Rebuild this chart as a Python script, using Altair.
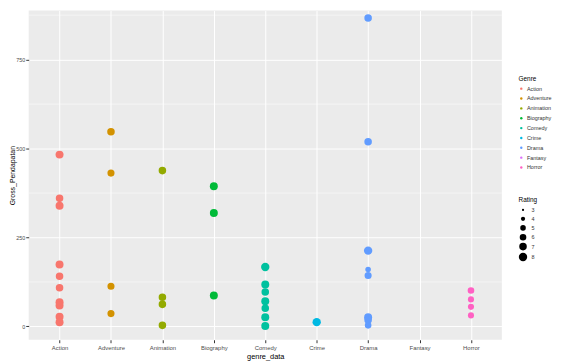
import altair as alt
import pandas as pd

genres = ["Action", "Adventure", "Animation", "Biography", "Comedy",
          "Crime", "Drama", "Fantasy", "Horror"]
colors = ["#F8766D", "#D39200", "#93AA00", "#00BA38", "#00C19F",
          "#00B9E3", "#619CFF", "#DB72FB", "#FF61C3"]

action_gross = [483, 360, 339, 174, 141, 109, 68, 59, 27, 12]
action_rating = [7.5, 7, 7.5, 7.5, 7, 7, 7.5, 7.5, 7.5, 7.5]
adventure_gross = [547, 431, 113, 36]
adventure_rating = [7, 6.5, 6.5, 6.5]
animation_gross = [438, 82, 62, 3]
animation_rating = [7, 7, 7, 7]
biography_gross = [394, 319, 87]
biography_rating = [7.5, 7.5, 7.5]
comedy_gross = [167, 118, 97, 71, 51, 26, 1]
comedy_rating = [8, 7.5, 7, 7.5, 7, 7.5, 7.5]
crime_gross = [12]
crime_rating = [8]
drama_gross = [867, 519, 213, 160, 143, 26, 18, 3]
drama_rating = [7, 7, 8, 5, 6.5, 7.5, 7, 6]
horror_gross = [101, 76, 55, 31]
horror_rating = [6, 5.5, 5.5, 5.5]

y_ticks = [0, 250, 500, 750]
y_minor = [125, 375, 625, 875]
rating_ticks = [3, 4, 5, 6, 7, 8]

series = [
    ("Action", action_gross, action_rating),
    ("Adventure", adventure_gross, adventure_rating),
    ("Animation", animation_gross, animation_rating),
    ("Biography", biography_gross, biography_rating),
    ("Comedy", comedy_gross, comedy_rating),
    ("Crime", crime_gross, crime_rating),
    ("Drama", drama_gross, drama_rating),
    ("Horror", horror_gross, horror_rating),
]
rows = []
for g, gs, rs in series:
    for v, r in zip(gs, rs):
        rows.append({"genre_data": g, "Gross": v, "Rating": r})
df = pd.DataFrame(rows)
minor_df = pd.DataFrame({"Gross": y_minor})

FONT = "Liberation Sans"
ydom = [-37.5, 888]

x_enc = alt.X("genre_data:N", title="genre_data",
              scale=alt.Scale(domain=genres, type="point", padding=0.6),
              axis=alt.Axis(labelAngle=0, grid=True, gridColor="white", gridWidth=1,
                            domain=False, tickColor="#333333", tickSize=3,
                            labelFontSize=6, labelColor="#4D4D4D", labelPadding=2,
                            titleFontSize=7.5, titleColor="black", titlePadding=2,
                            titleFontWeight="normal", labelFont=FONT, titleFont=FONT))

minor = alt.Chart(minor_df).mark_rule(color="white", strokeWidth=0.5).encode(
    y=alt.Y("Gross:Q", scale=alt.Scale(domain=ydom, nice=False, zero=False))
)

points = alt.Chart(df).mark_circle(opacity=1).encode(
    x=x_enc,
    y=alt.Y("Gross:Q", title="Gross_Pendapatan",
            scale=alt.Scale(domain=ydom, nice=False, zero=False),
            axis=alt.Axis(values=y_ticks, grid=True, gridColor="white", gridWidth=1,
                          domain=False, tickColor="#333333", tickSize=3,
                          labelFontSize=5.5, labelColor="#4D4D4D", labelPadding=1,
                          titleFontSize=7, titleColor="black", titleX=-13,
                          titleFontWeight="normal", labelFont=FONT, titleFont=FONT)),
    color=alt.Color("genre_data:N", title="Genre",
                    scale=alt.Scale(domain=genres, range=colors),
                    legend=alt.Legend(orient="none", legendX=497, legendY=66,
                                      symbolType="circle", symbolSize=6,
                                      labelFontSize=5.5, titleFontSize=6.5,
                                      rowPadding=3, labelOffset=3,
                                      titleFontWeight="normal", titlePadding=4,
                                      labelFont=FONT, titleFont=FONT,
                                      labelColor="#333333", titleColor="black")),
    size=alt.Size("Rating:Q", title="Rating",
                  scale=alt.Scale(domain=[3, 8], range=[5, 72], zero=False),
                  legend=alt.Legend(orient="none", legendX=497, legendY=189,
                                    values=rating_ticks, symbolType="circle",
                                    symbolFillColor="black", symbolStrokeColor="black",
                                    symbolStrokeWidth=0,
                                    labelFontSize=5.5, titleFontSize=6.5,
                                    rowPadding=2, labelOffset=4,
                                    titleFontWeight="normal", titlePadding=4,
                                    labelFont=FONT, titleFont=FONT,
                                    labelColor="#333333", titleColor="black")),
)

chart = alt.layer(minor, points).properties(
    width=480, height=334, background="white",
    autosize=alt.AutoSizeParams(type="none"),
    padding={"left": 21, "top": 0, "right": 58, "bottom": 22},
).configure_view(fill="#EBEBEB", stroke=None)

chart.save("out.html", embed_options={"renderer": "svg", "actions": False})
